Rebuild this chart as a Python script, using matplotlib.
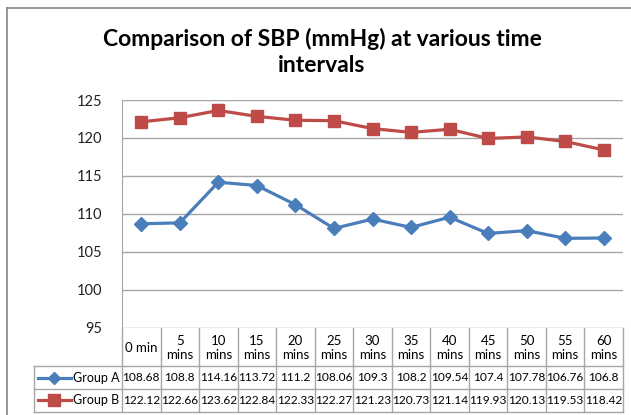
import numpy as np
import matplotlib
matplotlib.use('Agg')
import matplotlib.pyplot as plt
from matplotlib.lines import Line2D

plt.rcParams['font.family'] = ['Lato', 'DejaVu Sans']

# data
time_labels = ['0 min', '5\nmins', '10\nmins', '15\nmins', '20\nmins', '25\nmins', '30\nmins',
               '35\nmins', '40\nmins', '45\nmins', '50\nmins', '55\nmins', '60\nmins']
group_a = [108.68, 108.8, 114.16, 113.72, 111.2, 108.06, 109.3, 108.2, 109.54, 107.4, 107.78, 106.76, 106.8]
group_b = [122.12, 122.66, 123.62, 122.84, 122.33, 122.27, 121.23, 120.73, 121.14, 119.93, 120.13, 119.53, 118.42]
series_names = ['Group A', 'Group B']
y_ticks = [95, 100, 105, 110, 115, 120, 125]

blue = '#4A7EBB'
red = '#BE4B48'
grid_color = '#A6A6A6'

W, H = 631, 415
fig = plt.figure(figsize=(W / 100, H / 100), dpi=100)

# outer chart frame
fig.add_artist(Line2D([7 / W, 7 / W], [0, 1 - 8 / H], color='#868686', lw=1.2, transform=fig.transFigure))
fig.add_artist(Line2D([7 / W, 1], [1 - 8 / H, 1 - 8 / H], color='#868686', lw=1.2, transform=fig.transFigure))

fig.text(322 / W, 1 - 52 / H, 'Comparison of SBP (mmHg) at various time\nintervals',
         ha='center', va='center', fontsize=16.5, fontweight='bold', linespacing=1.3)

# plot area
top, bot = 100, 327.5
left, right = 122, 623
ax = fig.add_axes([left / W, 1 - bot / H, (right - left) / W, (bot - top) / H])
x = np.arange(len(time_labels)) + 0.5
ax.plot(x, group_a, color=blue, lw=2.3, marker='D', ms=7, mec=blue, mfc=blue)
ax.plot(x, group_b, color=red, lw=2.3, marker='s', ms=9, mec=red, mfc=red)
ax.set_xlim(0, len(time_labels))
ax.set_ylim(95, 125)
ax.set_yticks(y_ticks)
ax.yaxis.grid(True, color=grid_color, lw=1)
ax.set_axisbelow(True)
ax.set_xticks([])
ax.tick_params(axis='y', length=0, pad=14, labelsize=10.5, labelcolor='#222222')
for s in ['top', 'right', 'bottom']:
    ax.spines[s].set_visible(False)
ax.spines['left'].set_color(grid_color)

# data table below the plot
tb = fig.add_axes([left / W, 1 - 411.5 / H, (right - left) / W, (411.5 - bot) / H])
tb.set_xlim(0, len(time_labels))
tb.set_ylim(84, 0)
tb.axis('off')
rows = [0, 38.5, 61.5, 84]
leg_left = -(left - 34) / ((right - left) / len(time_labels))
kw = dict(color=grid_color, lw=1, clip_on=False)
for i in range(len(time_labels) + 1):
    tb.plot([i, i], [0, 84], **kw)
tb.plot([leg_left, leg_left], [rows[1], rows[3]], **kw)
for r in rows[1:]:
    tb.plot([leg_left, len(time_labels)], [r, r], **kw)

for i, lab in enumerate(time_labels):
    tb.text(x[i], (rows[0] + rows[1]) / 2 + 1, lab, ha='center', va='center', fontsize=9.5, linespacing=1.2)
    tb.text(x[i], (rows[1] + rows[2]) / 2, str(group_a[i]), ha='center', va='center', fontsize=8.6)
    tb.text(x[i], (rows[2] + rows[3]) / 2, str(group_b[i]), ha='center', va='center', fontsize=8.6)

for k, (name, col, mk, ms) in enumerate([(series_names[0], blue, 'D', 6), (series_names[1], red, 's', 8)]):
    yc = (rows[k + 1] + rows[k + 2]) / 2
    tb.plot([leg_left + 0.1, leg_left + 0.95], [yc, yc], color=col, lw=2.3, clip_on=False)
    tb.plot([leg_left + 0.52], [yc], marker=mk, ms=ms, color=col, clip_on=False)
    tb.text(-0.07, yc, name, ha='right', va='center', fontsize=9)

fig.savefig('out.png', dpi=100)
